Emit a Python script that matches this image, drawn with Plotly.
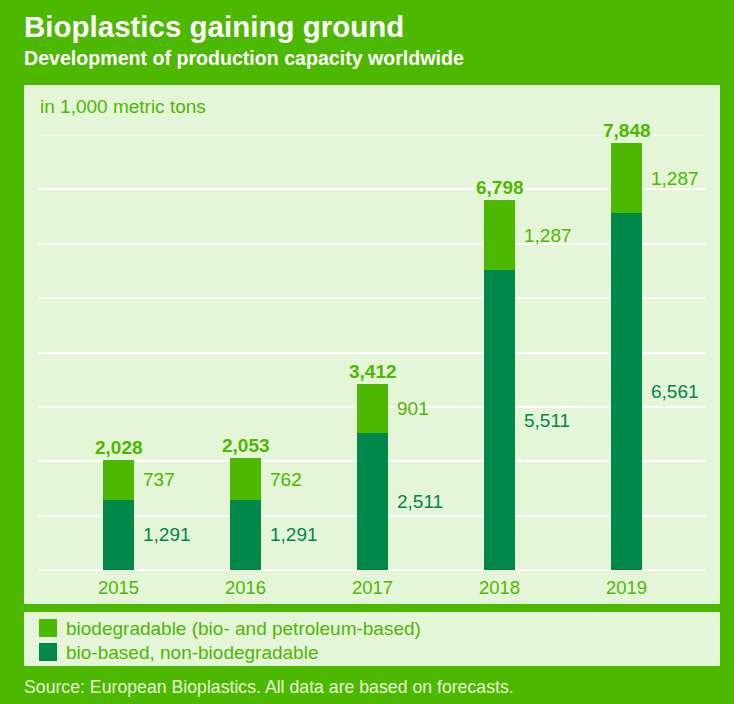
import plotly.graph_objects as go

years = [2015, 2016, 2017, 2018, 2019]
bio_based = [1291, 1291, 2511, 5511, 6561]
biodegradable = [737, 762, 901, 1287, 1287]
totals = [2028, 2053, 3412, 6798, 7848]

GREEN = "#4DB800"
DARK = "#00874A"
PANEL = "#E5F6D8"
FONT = "Liberation Sans, Arial, sans-serif"

W, H = 734, 704
L, R, T, B = 39, 705, 135, 570  # plot area in pixels
Y_MAX = 8000


def px(x):
    return (x - L) / (R - L)


def py(y):
    return (B - y) / (B - T)


fig = go.Figure()
fig.add_trace(go.Bar(x=years, y=bio_based, width=0.244, marker=dict(color=DARK, line=dict(width=0)),
                     name="bio-based, non-biodegradable", hoverinfo="skip"))
fig.add_trace(go.Bar(x=years, y=biodegradable, width=0.244, marker=dict(color=GREEN, line=dict(width=0)),
                     name="biodegradable (bio- and petroleum-based)", hoverinfo="skip"))

ann = []
for yr, d, l, t in zip(years, bio_based, biodegradable, totals):
    ann.append(dict(x=yr, y=t, text=f"<b>{t:,}</b>", showarrow=False, yanchor="bottom", xanchor="center",
                    yshift=0, font=dict(size=19, color=GREEN, family=FONT)))
    ann.append(dict(x=yr, y=d + l / 2, text=f"{l:,}", showarrow=False, xanchor="left", yanchor="middle",
                    xshift=22, font=dict(size=19, color=GREEN, family=FONT)))
    ann.append(dict(x=yr, y=d / 2, text=f"{d:,}", showarrow=False, xanchor="left", yanchor="middle",
                    xshift=22, font=dict(size=19, color=DARK, family=FONT)))

# titles and texts
ann.append(dict(xref="paper", yref="paper", x=px(22), y=py(27), text="<b>Bioplastics gaining ground</b>",
                showarrow=False, xanchor="left", yanchor="middle", font=dict(size=29.5, color="white", family=FONT)))
ann.append(dict(xref="paper", yref="paper", x=px(22), y=py(58), text="<b>Development of production capacity worldwide</b>",
                showarrow=False, xanchor="left", yanchor="middle", font=dict(size=19.6, color="white", family=FONT)))
ann.append(dict(xref="paper", yref="paper", x=px(38), y=py(107), text="in 1,000 metric tons",
                showarrow=False, xanchor="left", yanchor="middle", font=dict(size=19, color=GREEN, family=FONT)))
ann.append(dict(xref="paper", yref="paper", x=px(64), y=py(628), text="biodegradable (bio- and petroleum-based)",
                showarrow=False, xanchor="left", yanchor="middle", font=dict(size=19, color=GREEN, family=FONT)))
ann.append(dict(xref="paper", yref="paper", x=px(64), y=py(652), text="bio-based, non-biodegradable",
                showarrow=False, xanchor="left", yanchor="middle", font=dict(size=19, color=GREEN, family=FONT)))
ann.append(dict(xref="paper", yref="paper", x=px(22), y=py(687), text="Source: European Bioplastics. All data are based on forecasts.",
                showarrow=False, xanchor="left", yanchor="middle", font=dict(size=17.7, color=PANEL, family=FONT)))

shapes = [
    dict(type="rect", xref="paper", yref="paper", x0=px(24), x1=px(720), y0=py(85), y1=py(604),
         fillcolor=PANEL, line=dict(width=0), layer="below"),
    dict(type="rect", xref="paper", yref="paper", x0=px(24), x1=px(720), y0=py(612), y1=py(666),
         fillcolor=PANEL, line=dict(width=0), layer="below"),
    dict(type="rect", xref="paper", yref="paper", x0=px(39), x1=px(57), y0=py(619), y1=py(637),
         fillcolor=GREEN, line=dict(width=0)),
    dict(type="rect", xref="paper", yref="paper", x0=px(39), x1=px(57), y0=py(643), y1=py(661),
         fillcolor=DARK, line=dict(width=0)),
    # top gridline at the range maximum
    dict(type="line", xref="paper", yref="y", x0=0, x1=1, y0=Y_MAX, y1=Y_MAX,
         line=dict(color="white", width=1.5), layer="below"),
]

x0 = 2015 + (L - 118.5) / 127
x1 = 2015 + (R - 118.5) / 127

fig.update_layout(
    width=W, height=H,
    margin=dict(l=L, r=W - R, t=T, b=H - B, pad=0),
    paper_bgcolor=GREEN, plot_bgcolor="rgba(0,0,0,0)",
    barmode="stack", showlegend=False,
    annotations=ann, shapes=shapes,
    xaxis=dict(range=[x0, x1], tickvals=years, ticktext=[str(y) for y in years], showgrid=False,
               zeroline=False, showline=False, ticks="outside", ticklen=1, tickcolor="rgba(0,0,0,0)",
               tickfont=dict(size=18.5, color=GREEN, family=FONT), fixedrange=True),
    yaxis=dict(range=[0, Y_MAX], dtick=1000, showgrid=True, gridcolor="white", gridwidth=1.5,
               zeroline=True, zerolinecolor="white", zerolinewidth=1.5, showticklabels=False,
               ticks="", showline=False, fixedrange=True),
    font=dict(family=FONT),
)

fig.write_html("out.html", config={"displayModeBar": False},
               post_script="document.body.style.margin='0';document.body.style.overflow='hidden';")
